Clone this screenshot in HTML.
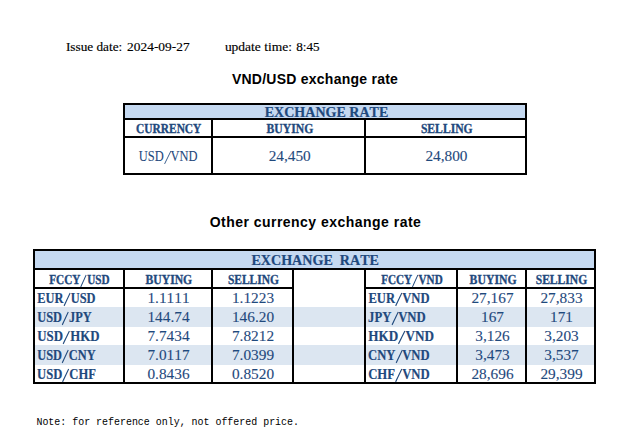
<!DOCTYPE html>
<html><head><meta charset="utf-8"><title>Exchange rate</title>
<style>
html,body{margin:0;padding:0;background:#fff}
#p{position:relative;width:633px;height:441px;overflow:hidden;background:#fff}
#p span{position:absolute;white-space:nowrap;line-height:20px;transform-origin:0 0;display:block;font-kerning:none}
#p i{position:absolute;display:block;background:#000}
.s{font-family:"Liberation Serif",serif;-webkit-text-stroke:.1px}
.s.b{-webkit-text-stroke:.2px}
.s.b.g{-webkit-text-stroke:.35px}
.a{font-family:"Liberation Sans",sans-serif}
.m{font-family:"Liberation Mono",monospace}
.b{font-weight:700}
.c{color:#1F497D}
.g{text-rendering:geometricPrecision}
</style></head>
<body><div id="p">
<i style="left:125px;top:105px;width:400px;height:13px;background:#C5D9F1"></i>
<i style="left:123px;top:103px;width:404px;height:2px"></i>
<i style="left:123px;top:118px;width:404px;height:2px"></i>
<i style="left:123px;top:136px;width:404px;height:2px"></i>
<i style="left:123px;top:173px;width:404px;height:2px"></i>
<i style="left:123px;top:103px;width:2px;height:72px"></i>
<i style="left:525px;top:103px;width:2px;height:72px"></i>
<i style="left:211px;top:118px;width:2px;height:57px"></i>
<i style="left:364px;top:118px;width:2px;height:57px"></i>
<i style="left:35px;top:251px;width:559px;height:17px;background:#C5D9F1"></i>
<i style="left:35px;top:307px;width:559px;height:20px;background:#DCE6F1"></i>
<i style="left:35px;top:345px;width:559px;height:20px;background:#DCE6F1"></i>
<i style="left:33px;top:249px;width:563px;height:2px"></i>
<i style="left:33px;top:268px;width:563px;height:2px"></i>
<i style="left:33px;top:287px;width:261px;height:2px"></i>
<i style="left:364px;top:287px;width:232px;height:2px"></i>
<i style="left:33px;top:382px;width:563px;height:2px"></i>
<i style="left:33px;top:249px;width:2px;height:135px"></i>
<i style="left:594px;top:249px;width:2px;height:135px"></i>
<i style="left:123px;top:268px;width:2px;height:116px"></i>
<i style="left:211px;top:268px;width:2px;height:116px"></i>
<i style="left:292px;top:268px;width:2px;height:116px"></i>
<i style="left:364px;top:268px;width:2px;height:116px"></i>
<i style="left:456px;top:268px;width:2px;height:116px"></i>
<i style="left:525px;top:268px;width:2px;height:116px"></i>
<span class="s" style="left:65px;top:37px;font-size:12.5px;transform:translateX(0.88px) scaleX(1.0618);-webkit-text-stroke:0.15px">Issue date:</span>
<span class="s" style="left:127px;top:37px;font-size:12.5px;transform:translateX(0.09px) scaleX(1.0726);-webkit-text-stroke:0.15px">2024-09-27</span>
<span class="s" style="left:224px;top:37px;font-size:12.5px;transform:translateX(0.88px) scaleX(1.0786);-webkit-text-stroke:0.15px">update time:</span>
<span class="s" style="left:296px;top:37px;font-size:12.5px;transform:translateX(0.22px) scaleX(1.0536);-webkit-text-stroke:0.15px">8:45</span>
<span class="a b" style="left:231px;top:69px;font-size:14px;transform:translateX(0.89px) scaleX(1.0000);letter-spacing:0.248px">VND/USD exchange rate</span>
<span class="a b" style="left:209px;top:212px;font-size:14px;transform:translateX(0.64px) scaleX(1.0000);letter-spacing:0.473px">Other currency exchange rate</span>
<span class="m" style="left:36px;top:412px;font-size:11px;transform:translateX(0.43px) scaleX(0.9039)">Note: for reference only, not offered price.</span>
<span class="s b c" style="left:264px;top:102px;font-size:14.67px;transform:translateX(0.77px) scaleX(0.9565)">EXCHANGE RATE</span>
<span class="s b c g" style="left:136px;top:119px;font-size:13.74px;transform:translateX(0.11px) scaleX(0.8297)">CURRENCY</span>
<span class="s b c g" style="left:266px;top:119px;font-size:13.74px;transform:translateX(0.58px) scaleX(0.8505)">BUYING</span>
<span class="s b c g" style="left:420px;top:119px;font-size:13.74px;transform:translateX(0.88px) scaleX(0.8476)">SELLING</span>
<span class="s c" style="left:138px;top:146px;font-size:14.67px;transform:translateX(0.70px) scaleX(0.8501)">USD<svg viewBox="0 0 57 88" style="width:.57em;height:.88em;vertical-align:-.2em;margin:0 -0.030em 0 0.020em;overflow:visible"><line x1="3.2" y1="88" x2="53.8" y2="0" stroke="currentColor" stroke-width="6.5"/></svg>VND</span>
<span class="s c" style="left:268px;top:146px;font-size:14.67px;transform:translateX(0.64px) scaleX(1.0450)">24,450</span>
<span class="s c" style="left:425px;top:146px;font-size:14.67px;transform:translateX(0.39px) scaleX(1.0450)">24,800</span>
<span class="s b c" style="left:251px;top:250px;font-size:14.67px;transform:translateX(0.41px) scaleX(0.9610)">EXCHANGE&nbsp;&nbsp;RATE</span>
<span class="s b c g" style="left:49px;top:270px;font-size:13.74px;transform:translateX(0.20px) scaleX(0.8167)">FCCY<svg viewBox="0 0 57 88" style="width:.57em;height:.88em;vertical-align:-.2em;margin:0 0.038em 0 0.007em;overflow:visible"><line x1="4.2" y1="88" x2="52.8" y2="0" stroke="currentColor" stroke-width="8.5"/></svg>USD</span>
<span class="s b c g" style="left:145px;top:270px;font-size:13.74px;transform:translateX(0.48px) scaleX(0.8505)">BUYING</span>
<span class="s b c g" style="left:227px;top:270px;font-size:13.74px;transform:translateX(0.90px) scaleX(0.8363)">SELLING</span>
<span class="s b c g" style="left:381px;top:270px;font-size:13.74px;transform:translateX(0.22px) scaleX(0.8092)">FCCY<svg viewBox="0 0 57 88" style="width:.57em;height:.88em;vertical-align:-.2em;margin:0 -0.000em 0 0.014em;overflow:visible"><line x1="4.2" y1="88" x2="52.8" y2="0" stroke="currentColor" stroke-width="8.5"/></svg>VND</span>
<span class="s b c g" style="left:469px;top:270px;font-size:13.74px;transform:translateX(0.61px) scaleX(0.8542)">BUYING</span>
<span class="s b c g" style="left:535px;top:270px;font-size:13.74px;transform:translateX(0.69px) scaleX(0.8442)">SELLING</span>
<span class="s b c" style="left:37px;top:288px;font-size:14.67px;transform:translateX(0.30px) scaleX(0.8469)">EUR<svg viewBox="0 0 57 88" style="width:.57em;height:.88em;vertical-align:-.2em;margin:0 -0.013em 0 0.024em;overflow:visible"><line x1="4.2" y1="88" x2="52.8" y2="0" stroke="currentColor" stroke-width="8.5"/></svg>USD</span>
<span class="s b c" style="left:37px;top:307px;font-size:14.67px;transform:translateX(0.25px) scaleX(0.8442)">USD<svg viewBox="0 0 57 88" style="width:.57em;height:.88em;vertical-align:-.2em;margin:0 0.015em 0 -0.011em;overflow:visible"><line x1="4.2" y1="88" x2="52.8" y2="0" stroke="currentColor" stroke-width="8.5"/></svg>JPY</span>
<span class="s b c" style="left:37px;top:326px;font-size:14.67px;transform:translateX(0.22px) scaleX(0.8759)">USD<svg viewBox="0 0 57 88" style="width:.57em;height:.88em;vertical-align:-.2em;margin:0 -0.001em 0 -0.006em;overflow:visible"><line x1="4.2" y1="88" x2="52.8" y2="0" stroke="currentColor" stroke-width="8.5"/></svg>HKD</span>
<span class="s b c" style="left:37px;top:345px;font-size:14.67px;transform:translateX(0.25px) scaleX(0.8434)">USD<svg viewBox="0 0 57 88" style="width:.57em;height:.88em;vertical-align:-.2em;margin:0 -0.022em 0 0.008em;overflow:visible"><line x1="4.2" y1="88" x2="52.8" y2="0" stroke="currentColor" stroke-width="8.5"/></svg>CNY</span>
<span class="s b c" style="left:37px;top:364px;font-size:14.67px;transform:translateX(0.10px) scaleX(0.8590)">USD<svg viewBox="0 0 57 88" style="width:.57em;height:.88em;vertical-align:-.2em;margin:0 0.004em 0 -0.013em;overflow:visible"><line x1="4.2" y1="88" x2="52.8" y2="0" stroke="currentColor" stroke-width="8.5"/></svg>CHF</span>
<span class="s b c" style="left:368px;top:288px;font-size:14.67px;transform:translateX(0.39px) scaleX(0.8625)">EUR<svg viewBox="0 0 57 88" style="width:.57em;height:.88em;vertical-align:-.2em;margin:0 -0.028em 0 0.019em;overflow:visible"><line x1="4.2" y1="88" x2="52.8" y2="0" stroke="currentColor" stroke-width="8.5"/></svg>VND</span>
<span class="s b c" style="left:368px;top:307px;font-size:14.67px;transform:translateX(0.12px) scaleX(0.8669)">JPY<svg viewBox="0 0 57 88" style="width:.57em;height:.88em;vertical-align:-.2em;margin:0 -0.039em 0 -0.001em;overflow:visible"><line x1="4.2" y1="88" x2="52.8" y2="0" stroke="currentColor" stroke-width="8.5"/></svg>VND</span>
<span class="s b c" style="left:368px;top:326px;font-size:14.67px;transform:translateX(0.33px) scaleX(0.8966)">HKD<svg viewBox="0 0 57 88" style="width:.57em;height:.88em;vertical-align:-.2em;margin:0 -0.020em 0 -0.005em;overflow:visible"><line x1="4.2" y1="88" x2="52.8" y2="0" stroke="currentColor" stroke-width="8.5"/></svg>VND</span>
<span class="s b c" style="left:368px;top:345px;font-size:14.67px;transform:translateX(0.08px) scaleX(0.8616)">CNY<svg viewBox="0 0 57 88" style="width:.57em;height:.88em;vertical-align:-.2em;margin:0 -0.033em 0 -0.002em;overflow:visible"><line x1="4.2" y1="88" x2="52.8" y2="0" stroke="currentColor" stroke-width="8.5"/></svg>VND</span>
<span class="s b c" style="left:368px;top:364px;font-size:14.67px;transform:translateX(0.20px) scaleX(0.8668)">CHF<svg viewBox="0 0 57 88" style="width:.57em;height:.88em;vertical-align:-.2em;margin:0 -0.030em 0 0.020em;overflow:visible"><line x1="4.2" y1="88" x2="52.8" y2="0" stroke="currentColor" stroke-width="8.5"/></svg>VND</span>
<span class="s c" style="left:147px;top:288px;font-size:14.67px;transform:translateX(0.44px) scaleX(1.0450)">1.1111</span>
<span class="s c" style="left:231px;top:288px;font-size:14.67px;transform:translateX(0.94px) scaleX(1.0450)">1.1223</span>
<span class="s c" style="left:471px;top:288px;font-size:14.67px;transform:translateX(0.44px) scaleX(1.0450)">27,167</span>
<span class="s c" style="left:540px;top:288px;font-size:14.67px;transform:translateX(0.44px) scaleX(1.0450)">27,833</span>
<span class="s c" style="left:147px;top:307px;font-size:14.67px;transform:translateX(0.44px) scaleX(1.0450)">144.74</span>
<span class="s c" style="left:231px;top:307px;font-size:14.67px;transform:translateX(0.94px) scaleX(1.0450)">146.20</span>
<span class="s c" style="left:481px;top:307px;font-size:14.67px;transform:translateX(0.01px) scaleX(1.0450)">167</span>
<span class="s c" style="left:550px;top:307px;font-size:14.67px;transform:translateX(0.01px) scaleX(1.0450)">171</span>
<span class="s c" style="left:147px;top:326px;font-size:14.67px;transform:translateX(0.44px) scaleX(1.0450)">7.7434</span>
<span class="s c" style="left:231px;top:326px;font-size:14.67px;transform:translateX(0.94px) scaleX(1.0450)">7.8212</span>
<span class="s c" style="left:475px;top:326px;font-size:14.67px;transform:translateX(0.27px) scaleX(1.0450)">3,126</span>
<span class="s c" style="left:544px;top:326px;font-size:14.67px;transform:translateX(0.27px) scaleX(1.0450)">3,203</span>
<span class="s c" style="left:147px;top:345px;font-size:14.67px;transform:translateX(0.44px) scaleX(1.0450)">7.0117</span>
<span class="s c" style="left:231px;top:345px;font-size:14.67px;transform:translateX(0.94px) scaleX(1.0450)">7.0399</span>
<span class="s c" style="left:475px;top:345px;font-size:14.67px;transform:translateX(0.27px) scaleX(1.0450)">3,473</span>
<span class="s c" style="left:544px;top:345px;font-size:14.67px;transform:translateX(0.27px) scaleX(1.0450)">3,537</span>
<span class="s c" style="left:147px;top:364px;font-size:14.67px;transform:translateX(0.44px) scaleX(1.0450)">0.8436</span>
<span class="s c" style="left:231px;top:364px;font-size:14.67px;transform:translateX(0.94px) scaleX(1.0450)">0.8520</span>
<span class="s c" style="left:471px;top:364px;font-size:14.67px;transform:translateX(0.44px) scaleX(1.0450)">28,696</span>
<span class="s c" style="left:540px;top:364px;font-size:14.67px;transform:translateX(0.44px) scaleX(1.0450)">29,399</span>
</div></body></html>
